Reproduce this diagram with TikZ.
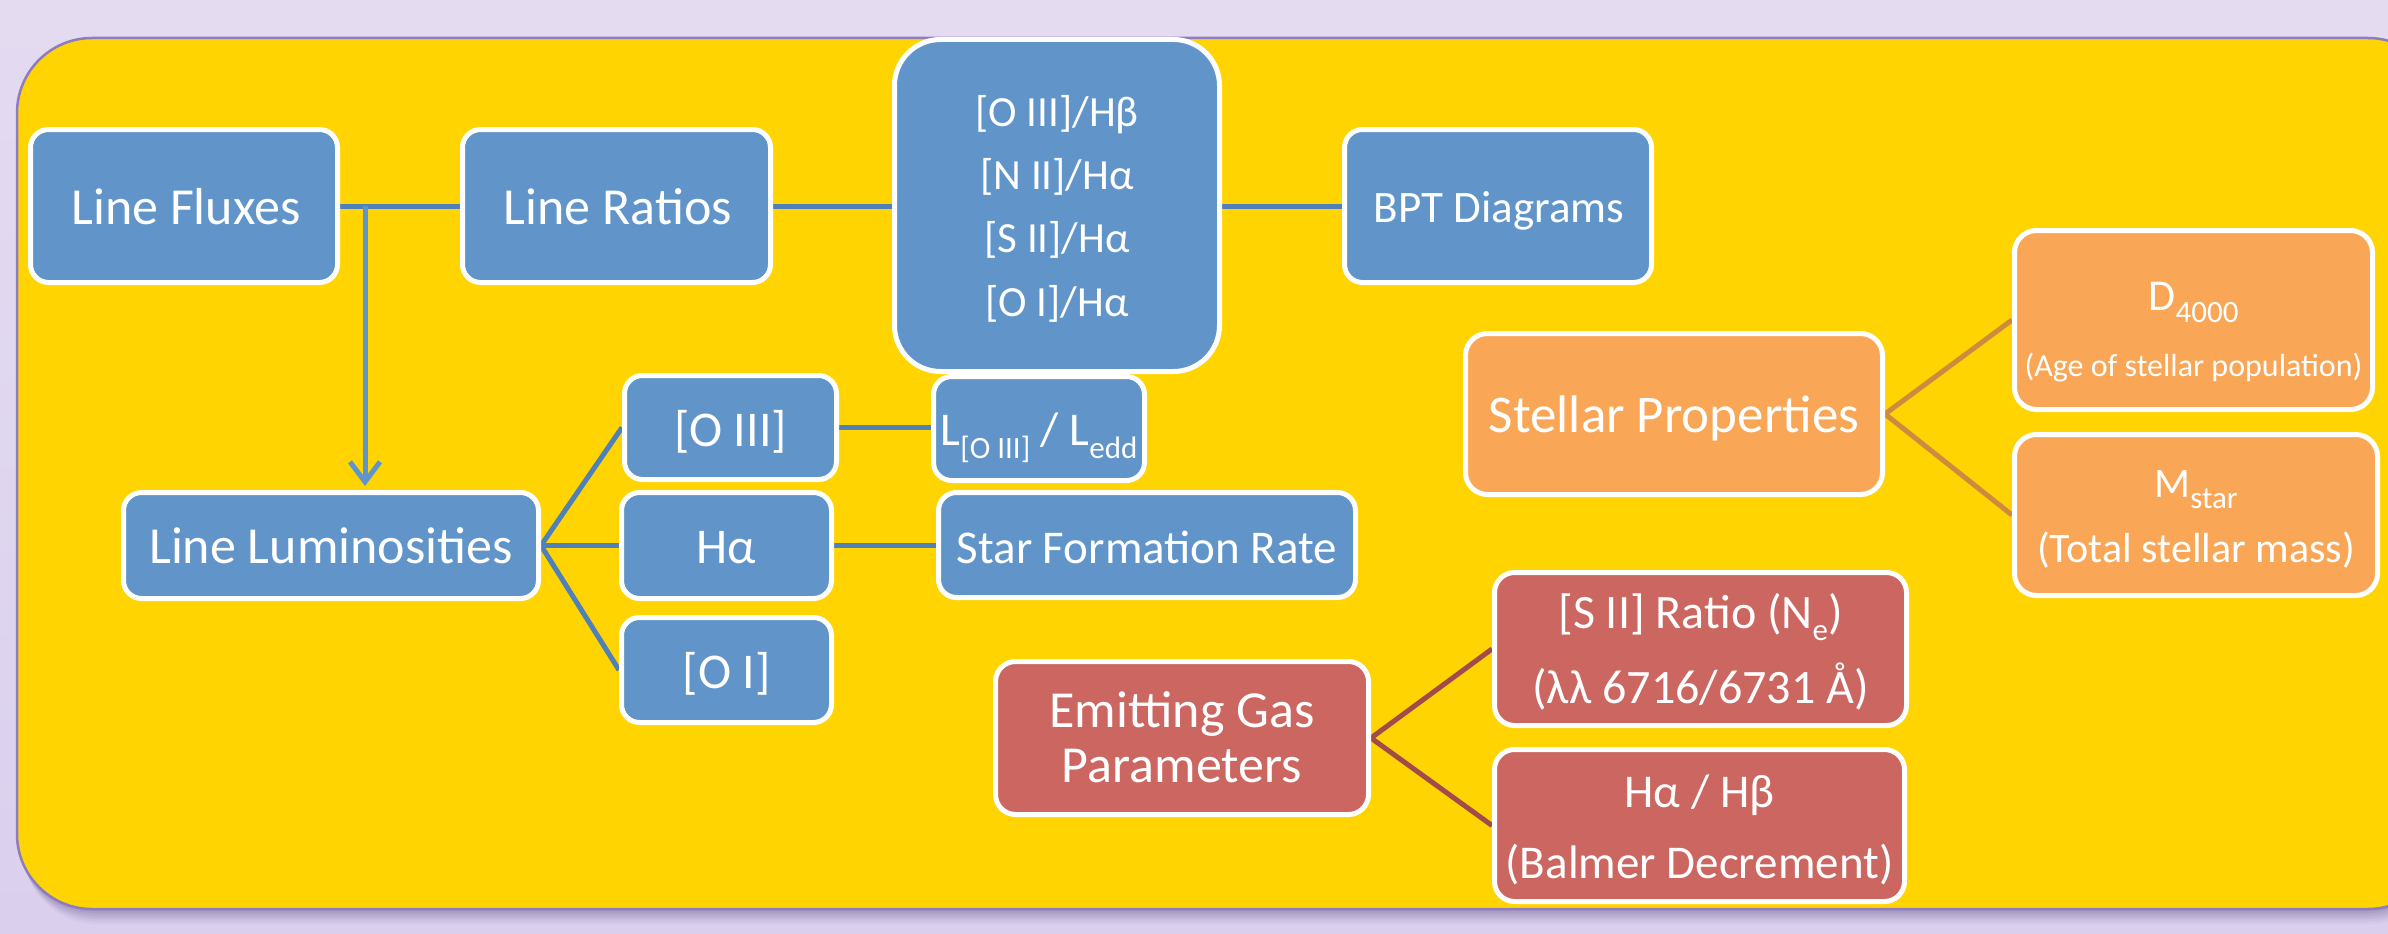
\documentclass[tikz,border=0pt]{standalone}
\usepackage{fontspec}
\setmainfont{Carlito}
\usetikzlibrary{arrows.meta,calc}
\definecolor{lav}{HTML}{E4DBF1}
\definecolor{lav2}{HTML}{DAD0EE}
\definecolor{panelY}{HTML}{FFD401}
\definecolor{panelB}{HTML}{8E7CC3}
\definecolor{shad}{HTML}{5E4E86}
\definecolor{boxB}{HTML}{6195C9}
\definecolor{lineB}{HTML}{4F80B8}
\definecolor{arrB}{HTML}{5E95CC}
\definecolor{boxO}{HTML}{F9A757}
\definecolor{lineO}{HTML}{D08A40}
\definecolor{boxR}{HTML}{CC6660}
\definecolor{lineR}{HTML}{A34B4B}
\newcommand{\fsz}[2]{\fontsize{#1pt}{#2pt}\selectfont}
\newcommand{\lowsub}[2]{\raisebox{-#1pt}{\fsz{31}{31}#2}}
\pgfdeclarelayer{bglayer}
\pgfdeclarelayer{midlayer}
\pgfsetlayers{bglayer,midlayer,main}
\begin{document}
\begin{tikzpicture}[x=1pt,y=-1pt,
  card/.style={draw=white, line width=5pt, rounded corners=18pt, inner sep=0pt},
  bluecard/.style={card, fill=boxB},
  orgcard/.style={card, fill=boxO, rounded corners=22pt},
  redcard/.style={card, fill=boxR, rounded corners=20pt},
  lbl/.style={text=white, anchor=base, inner sep=0pt},
  bconn/.style={draw=lineB, line width=5pt},
  oconn/.style={draw=lineO, line width=5pt},
  rconn/.style={draw=lineR, line width=5pt}]
\useasboundingbox (0,0) rectangle (2388,934);

% ---------- boxes ----------
\node[bluecard, minimum width=307pt, minimum height=153pt] (lf) at (184,206) {};
\node[bluecard, minimum width=308pt, minimum height=153pt] (lr) at (616.5,206) {};
\node[bluecard, minimum width=325pt, minimum height=332pt, rounded corners=46pt] (rat) at (1057,205.5) {};
\node[bluecard, minimum width=307pt, minimum height=153pt] (bpt) at (1498,206) {};
\node[bluecard, minimum width=415pt, minimum height=106pt] (ll) at (331,545.5) {};
\node[bluecard, minimum width=212pt, minimum height=104pt] (oiii) at (730.5,427.5) {};
\node[bluecard, minimum width=210pt, minimum height=106pt] (ha) at (726.5,545.5) {};
\node[bluecard, minimum width=210pt, minimum height=105pt] (oi) at (726.5,670) {};
\node[bluecard, minimum width=211pt, minimum height=104pt] (ledd) at (1039,428.5) {};
\node[bluecard, minimum width=417pt, minimum height=105pt] (sfr) at (1147,545) {};
\node[orgcard, minimum width=417pt, minimum height=161pt] (sp) at (1674,414) {};
\node[orgcard, minimum width=358pt, minimum height=179pt] (dq) at (2193.5,320) {};
\node[orgcard, minimum width=363pt, minimum height=161pt] (ms) at (2196,515) {};
\node[redcard, minimum width=373pt, minimum height=153pt] (eg) at (1182,738) {};
\node[redcard, minimum width=412pt, minimum height=153pt] (sii) at (1700.5,649) {};
\node[redcard, minimum width=410pt, minimum height=152pt] (hh) at (1699.5,825.5) {};

% ---------- texts ----------
\node[lbl, font=\fsz{52}{52}] (lft) at (186,224) {Line Fluxes};
\node[lbl, font=\fsz{52}{52}] (lrt) at (618,224) {Line Ratios};
\node[lbl, font=\fsz{45}{45}] (bptt) at (1499,222) {BPT Diagrams};
\node[lbl, font=\fsz{43}{43}] (rat1) at (1057,126) {[O III]/Hβ};
\node[lbl, font=\fsz{43}{43}] (rat2) at (1057,189) {[N II]/Hα};
\node[lbl, font=\fsz{43}{43}] (rat3) at (1057,252) {[S II]/Hα};
\node[lbl, font=\fsz{43}{43}] (rat4) at (1057,316) {[O I]/Hα};
\node[lbl, font=\fsz{52}{52}] (llt) at (331,563) {Line Luminosities};
\node[lbl, font=\fsz{50}{50}] (oiiit) at (730.5,446) {[O III]};
\node[lbl, font=\fsz{50}{50}] (hat) at (726.5,563) {Hα};
\node[lbl, font=\fsz{50}{50}] (oit) at (726.5,688) {[O I]};
\node[lbl, font=\fsz{47}{47}] (leddt) at (1039,445) {L\lowsub{13}{[O III]} / L\lowsub{13}{edd}};
\node[lbl, font=\fsz{47}{47}] (sfrt) at (1147,563) {Star Formation Rate};
\node[lbl, font=\fsz{53}{53}] (spt) at (1674,432) {Stellar Properties};
\node[lbl, font=\fsz{44}{44}] (dqt1) at (2193.5,310) {D\lowsub{12}{4000}};
\node[lbl, font=\fsz{32}{32}] (dqt2) at (2193.5,376) {(Age of stellar population)};
\node[lbl, font=\fsz{42}{42}] (mst1) at (2196,497) {M\lowsub{11}{star}};
\node[lbl, font=\fsz{42}{42}] (mst2) at (2196,562) {(Total stellar mass)};
\node[lbl, font=\fsz{52}{52}] (egt1) at (1182,727) {Emitting Gas};
\node[lbl, font=\fsz{52}{52}] (egt2) at (1182,782) {Parameters};
\node[lbl, font=\fsz{48}{48}] (siit1) at (1700.5,628) {[S II] Ratio (N\lowsub{12}{e})};
\node[lbl, font=\fsz{48}{48}] (siit2) at (1700.5,703) {(λλ 6716/6731 Å)};
\node[lbl, font=\fsz{47}{47}] (hht1) at (1699.5,807) {Hα / Hβ};
\node[lbl, font=\fsz{47}{47}] (hht2) at (1699.5,878) {(Balmer Decrement)};

% ---------- background ----------
\begin{pgfonlayer}{bglayer}
  \shade[top color=lav, bottom color=lav2] (0,0) rectangle (2388,934);
  \foreach \d/\o in {2/0.10,4/0.09,6/0.08,8/0.07,10/0.06,12/0.05,14/0.04,16/0.03}
    \fill[shad, opacity=\o, rounded corners=75pt] (17+0.4*\d,38+\d) rectangle (2443,909+\d);
  \filldraw[fill=panelY, draw=panelB, line width=2.5pt, rounded corners=75pt] (17,38) rectangle (2443,909);
\end{pgfonlayer}

% ---------- connectors ----------
\begin{pgfonlayer}{midlayer}
  \coordinate (fj) at (365,206);
  \path[bconn] (lf.east) -- (lr.west);
  \path[bconn] (lr.east) -- (lr.east -| rat.west);
  \path[bconn] (rat.east |- bpt.west) -- (bpt.west);
  \draw[arrB, line width=5pt, -{Straight Barb[length=20pt,width=30pt]}]
       (fj) -- ($(fj |- ll.north)+(0,-4)$);
  \path[bconn, line join=miter] (oiii.west) -- (ll.east) -- (oi.west);
  \path[bconn] (ll.east) -- (ha.west);
  \path[bconn] (oiii.east) -- (oiii.east -| ledd.west);
  \path[bconn] (ha.east) -- (ha.east -| sfr.west);
  \path[oconn, line join=miter] (dq.west) -- (sp.east) -- (ms.west);
  \path[rconn, line join=miter] (sii.west) -- (eg.east) -- (hh.west);
\end{pgfonlayer}
\end{tikzpicture}
\end{document}
